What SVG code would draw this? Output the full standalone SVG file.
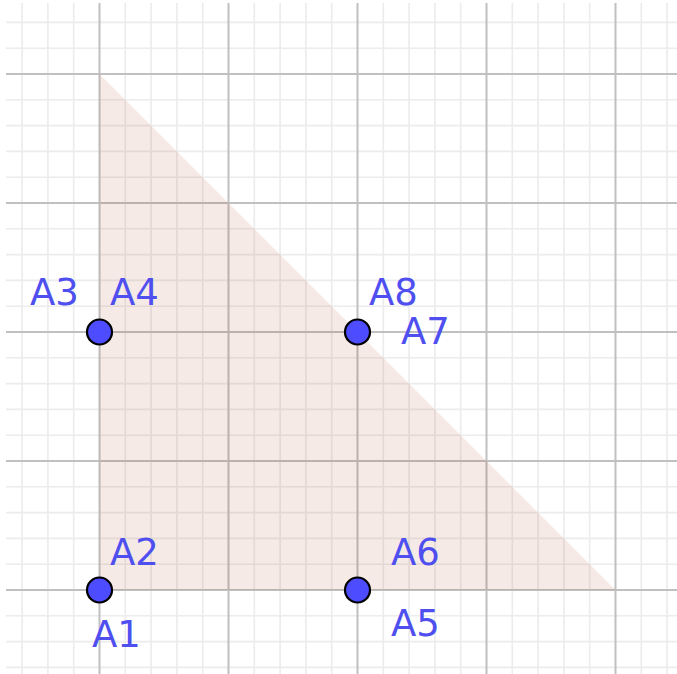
<svg xmlns="http://www.w3.org/2000/svg" width="677" height="674" viewBox="0 0 677 674">
<style>
.minor{stroke:#ececec;stroke-width:1.6;fill:none}
.major{stroke:#c0c0c0;stroke-width:2;fill:none}
.pt{fill:#4d4dff;stroke:#000;stroke-width:2.2}
.lbl{font-family:"DejaVu Sans","Liberation Sans",sans-serif;font-size:37px;fill:#4f4ff0}
</style>
<rect x="0" y="0" width="677" height="674" fill="#fff"/>
<g id="grid-minor" class="minor">
<path d="M22.1 3V674M47.9 3V674M73.7 3V674M125.3 3V674M151.1 3V674M176.9 3V674M202.7 3V674M254.3 3V674M280.1 3V674M305.9 3V674M331.7 3V674M383.3 3V674M409.1 3V674M434.9 3V674M460.7 3V674M512.3 3V674M538.1 3V674M563.9 3V674M589.7 3V674M641.3 3V674M667.1 3V674"/>
<path d="M6 22.4H677M6 48.2H677M6 99.8H677M6 125.6H677M6 151.4H677M6 177.2H677M6 228.8H677M6 254.6H677M6 280.4H677M6 306.2H677M6 357.8H677M6 383.6H677M6 409.4H677M6 435.2H677M6 486.8H677M6 512.6H677M6 538.4H677M6 564.2H677M6 615.8H677M6 641.6H677M6 667.4H677"/>
</g>
<g id="grid-major" class="major">
<path d="M99.5 3V674M228.5 3V674M357.5 3V674M486.5 3V674M615.5 3V674"/>
<path d="M6 74H677M6 203H677M6 332H677M6 461H677M6 590H677"/>
</g>
<g id="triangle">
<polygon points="99.5,74 99.5,590 615.5,590" fill="#993300" fill-opacity="0.1"/>
</g>
<g id="connectors"></g>
<g id="A3A4">
<circle class="pt" cx="99.5" cy="332" r="12.5"/>
<text class="lbl" x="30" y="305">A3</text>
<text class="lbl" x="110" y="305">A4</text>
</g>
<g id="A7A8">
<circle class="pt" cx="357.5" cy="332" r="12.5"/>
<text class="lbl" x="369" y="305">A8</text>
<text class="lbl" x="401" y="344">A7</text>
</g>
<g id="A1A2">
<circle class="pt" cx="99.5" cy="590" r="12.5"/>
<text class="lbl" x="110" y="565">A2</text>
<text class="lbl" x="92" y="647">A1</text>
</g>
<g id="A5A6">
<circle class="pt" cx="357.5" cy="590" r="12.5"/>
<text class="lbl" x="391" y="565">A6</text>
<text class="lbl" x="391" y="636">A5</text>
</g>
</svg>
